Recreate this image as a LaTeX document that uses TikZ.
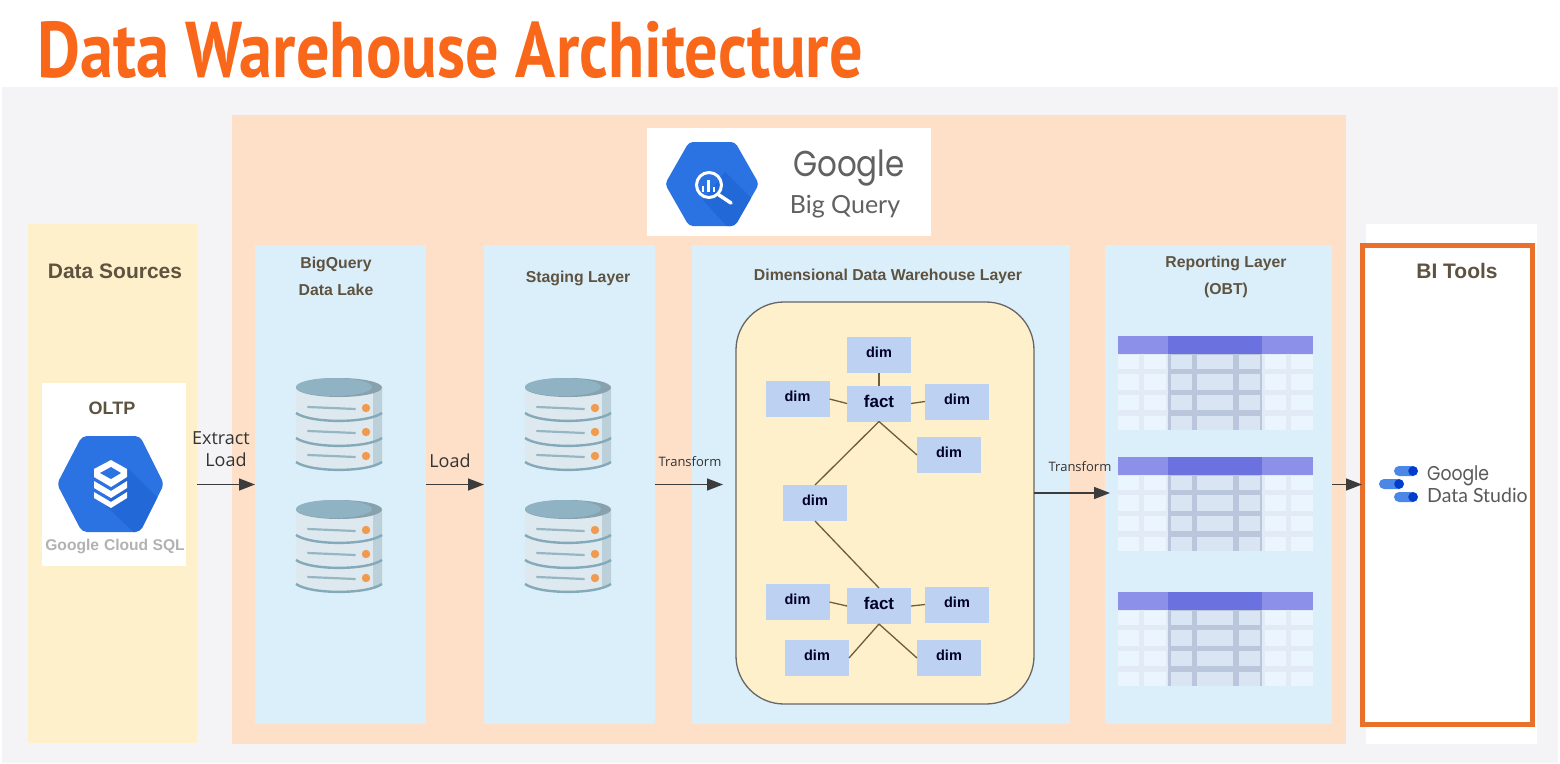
\documentclass[tikz,border=0pt]{standalone}
\usepackage{fontspec}
\usetikzlibrary{arrows.meta}
\setmainfont{Liberation Sans}
\newfontfamily\titlefont[FakeStretch=0.84]{PT Sans}
\newfontfamily\arrowfont{Open Sans}
\newfontfamily\logofont[FakeStretch=0.86]{Poppins}
\newfontfamily\logosub{Lato}
\definecolor{pagegray}{HTML}{F4F4F6}
\definecolor{peach}{HTML}{FEE0C8}
\definecolor{cream}{HTML}{FFF0CC}
\definecolor{skyblue}{HTML}{DBEFFB}
\definecolor{dimblue}{HTML}{BDD2F2}
\definecolor{titleorange}{HTML}{F9671A}
\definecolor{bordorange}{HTML}{E8702A}
\definecolor{headbrown}{HTML}{5E5340}
\definecolor{linkbrown}{HTML}{6F5C3C}
\definecolor{arrowdark}{HTML}{3C3C3C}
\definecolor{gblue}{HTML}{2B72E3}
\definecolor{gbluedark}{HTML}{2268D6}
\definecolor{dbbody}{HTML}{DDE9EE}
\definecolor{dbside}{HTML}{BCD0D9}
\definecolor{dbtop}{HTML}{8FB3C2}
\definecolor{dbband}{HTML}{84A9B9}
\definecolor{dbdot}{HTML}{F09A50}
\definecolor{taba}{HTML}{8C90E8}
\definecolor{tabb}{HTML}{6B72DF}
\definecolor{tabedge}{HTML}{E2EAF5}
\definecolor{tabmid}{HTML}{BAC6DC}
\definecolor{cella}{HTML}{EBF5FE}
\definecolor{cellb}{HTML}{DAE5F3}
\tikzset{
  panel/.style={anchor=north west,inner sep=0pt,outer sep=0pt},
  heading/.style={font=\bfseries\fontsize{15.8}{18}\selectfont,text=headbrown,inner sep=0pt},
  bighead/.style={font=\bfseries\fontsize{21}{25}\selectfont,text=headbrown,inner sep=0pt},
  dimbox/.style={fill=dimblue,minimum width=64pt,minimum height=36pt,inner sep=0pt,outer sep=0pt,
    text depth=5pt,font=\bfseries\fontsize{14.5}{17}\selectfont,text=black!85!blue},
  factbox/.style={dimbox,font=\bfseries\fontsize{17}{20}\selectfont},
  link/.style={draw=linkbrown,line width=1.3pt},
  flow/.style={draw=arrowdark,line width=1.5pt,-{Triangle[length=16pt,width=12pt]}},
  flowtext/.style={font=\arrowfont\fontsize{18}{21}\selectfont,text=black!80,inner sep=0pt},
  smalltext/.style={font=\arrowfont\fontsize{13}{15}\selectfont,text=black!80,inner sep=0pt},
  dbstack/.pic={
    \fill[dbbody] (-43,9.5) -- (-43,84) .. controls (-30,95) and (30,95) .. (43,84) -- (43,9.5) -- cycle;
    \fill[dbside] (34,14) -- (34,89) .. controls (38,88) and (41,86) .. (43,84) -- (43,9.5) -- cycle;
    \foreach \yb in {35,60,84}
      \draw[dbband,line width=2.4pt] (-43,\yb) .. controls (-28,\yb+10.5) and (28,\yb+10.5) .. (43,\yb);
    \foreach \yb in {30,54,78} {
      \draw[dbband!85,line width=2.2pt,line cap=round] (-31,\yb-1) -- (16,\yb+1);
      \fill[dbdot] (27,\yb) circle (4.2);
    }
    \fill[dbtop!85!black!90] (0,9.5) ellipse [x radius=43,y radius=9.5];
    \fill[dbtop] (-5,9) ellipse [x radius=38,y radius=9];
  },
  tableicon/.pic={
    \fill[tabedge] (0,18) rectangle (50,94);
    \fill[tabedge] (144,18) rectangle (195,94);
    \fill[tabmid] (50,18) rectangle (144,94);
    \foreach \xa/\xb/\cellcol in {0/21/cella,26/48/cella,53/74/cellb,79/115/cellb,121/142/cellb,147/168/cella,173/195/cella}
      \foreach \ya/\yb in {19/33,38/54,59/74,80/94}
        \fill[\cellcol] (\xa,\ya) rectangle (\xb,\yb);
    \fill[taba] (0,0) rectangle (195,18);
    \fill[tabb] (50,0) rectangle (144,18);
  }
}
\begin{document}
\begin{tikzpicture}[x=1pt,y=-1pt]
  \useasboundingbox (0,0) rectangle (1560,763);
  \fill[white] (0,0) rectangle (1560,763);
  \fill[pagegray] (2,87) rectangle (1558,763);
  \node[anchor=west,inner sep=0pt,text=titleorange,font=\titlefont\bfseries\fontsize{79}{90}\selectfont] (title) at (37,50) {Data Warehouse Architecture};
  % large areas
  \fill[peach] (232,115) rectangle (1346,744);
  \fill[white] (1366,224) rectangle (1537,744);
  \node[panel,fill=cream,minimum width=169pt,minimum height=519pt] (sources) at (28,224) {};
  \node[panel,fill=skyblue,minimum width=171pt,minimum height=479pt] (lake) at (255,245) {};
  \node[panel,fill=skyblue,minimum width=171pt,minimum height=479pt] (staging) at (484,245) {};
  \node[panel,fill=skyblue,minimum width=378pt,minimum height=479pt] (dwh) at (692,245) {};
  \node[panel,fill=skyblue,minimum width=227pt,minimum height=479pt] (reporting) at (1105,245) {};
  \node[panel,draw=bordorange,line width=5pt,minimum width=170pt,minimum height=479pt] (bitools) at (1362,245) {};
  % headings
  \node[bighead] (srchead) at (115,271) {Data Sources};
  \node[heading] (lakehead) at (336,264.5) {BigQuery};
  \node[heading] (lakehead2) at (336,290) {Data Lake};
  \node[heading] (staginghead) at (578,278.5) {Staging Layer};
  \node[heading] (dwhhead) at (888,276.5) {Dimensional Data Warehouse Layer};
  \node[heading] (rephead) at (1226,263.5) {Reporting Layer};
  \node[heading] (rephead2) at (1226,290) {(OBT)};
  \node[bighead] (bihead) at (1457,271) {BI Tools};
  % big query logo
  \node[panel,fill=white,minimum width=284pt,minimum height=108pt] (bqbox) at (647,128) {};
  \begin{scope}
    \clip[rounded corners=4pt] (665,184) -- (689,142) -- (735,142) -- (759,184) -- (735,226) -- (689,226) -- cycle;
    \fill[gblue] (660,138) rectangle (765,230);
    \fill[gbluedark] (725,172) -- (765,212) -- (765,232) -- (732,232) -- (703,200) -- cycle;
  \end{scope}
  \draw[white,line width=3pt] (709,185) circle (12.5);
  \draw[white,line width=3.6pt,line cap=round] (719,195) -- (731,203);
  \foreach \xb/\yb in {703/186,708.5/180,714/187}
    \draw[white,line width=2.6pt] (\xb,\yb) -- (\xb,192);
  \node[inner sep=0pt,text=black!62,font=\logofont\fontsize{36}{42}\selectfont] (bqname) at (849,168) {Google};
  \node[inner sep=0pt,text=black!62,font=\logosub\fontsize{25}{30}\selectfont] (bqsub) at (845,207) {Big Query};
  % oltp card
  \node[panel,fill=white,minimum width=144pt,minimum height=183pt] (oltp) at (42,383) {};
  \node[inner sep=0pt,text=headbrown,font=\bfseries\fontsize{18}{21}\selectfont] (oltphead) at (112,408) {OLTP};
  \begin{scope}
    \clip[rounded corners=5pt] (57,484) -- (82,436) -- (140,436) -- (164,484) -- (140,532) -- (82,532) -- cycle;
    \fill[gblue] (50,430) rectangle (170,540);
    \fill[gbluedark] (128,468) -- (170,510) -- (170,540) -- (142,540) -- (106,506) -- cycle;
  \end{scope}
  \fill[white] (111,460) -- (127,469) -- (127,477) -- (111,487) -- (94,477) -- (94,469) -- cycle;
  \fill[gblue] (111,467) -- (121,473) -- (111,479) -- (100,473) -- cycle;
  \fill[white] (94,481) -- (111,491) -- (127,481) -- (127,488) -- (111,498) -- (94,488) -- cycle;
  \fill[white] (94,492) -- (111,502) -- (127,492) -- (127,498) -- (111,508) -- (94,498) -- cycle;
  \node[inner sep=0pt,text=black!30,font=\bfseries\fontsize{15.6}{18}\selectfont] (sqlname) at (115,546) {Google\hspace{5pt}Cloud SQL};
  % databases
  \pic at (339,378) {dbstack};
  \pic at (339,500) {dbstack};
  \pic at (568,378) {dbstack};
  \pic at (568,500) {dbstack};
  % star schema
  \node[panel,draw=black!60,fill=cream,line width=1.3pt,rounded corners=48pt,minimum width=298pt,minimum height=402pt] (yellow) at (736,302) {};
  \node[dimbox] (dimtop) at (879,355) {dim};
  \node[factbox] (facta) at (879,403.5) {fact};
  \node[dimbox] (dimleft) at (797.5,399) {dim};
  \node[dimbox] (dimright) at (957,401.5) {dim};
  \node[dimbox] (dimlow) at (949,455) {dim};
  \node[dimbox] (dimmid) at (815,503) {dim};
  \node[factbox] (factb) at (879,606) {fact};
  \node[dimbox] (dimleftb) at (797.5,602) {dim};
  \node[dimbox] (dimrightb) at (957,604.5) {dim};
  \node[dimbox] (dimlowa) at (817,658) {dim};
  \node[dimbox] (dimlowb) at (949,658) {dim};
  \draw[link] (dimtop) -- (facta);
  \draw[link] (dimleft.east) -- (facta.west);
  \draw[link] (dimright.west) -- (facta.east);
  \draw[link] (facta.south) -- (dimlow.west);
  \draw[link] (facta.south) -- (dimmid.north);
  \draw[link] (dimmid.south) -- (factb.north);
  \draw[link] (dimleftb.east) -- (factb.west);
  \draw[link] (dimrightb.west) -- (factb.east);
  \draw[link] (factb.south) -- (dimlowa.east);
  \draw[link] (factb.south) -- (dimlowb.west);
  % tables
  \pic at (1118,336) {tableicon};
  \pic at (1118,457) {tableicon};
  \pic at (1118,592) {tableicon};
  % data studio logo
  \foreach \xa/\xb/\yc in {1394/1418/471,1379/1404/484,1394/1418/497} {
    \fill[gblue!85!white,rounded corners=5pt] (\xa,\yc-5) rectangle (\xb,\yc+5);
    \fill[blue!70!cyan!80!black] (\xb-5,\yc) circle (4.8);
  }
  \node[anchor=west,inner sep=0pt,text=black!65,font=\logofont\fontsize{20}{22}\selectfont] (dsname) at (1427,476) {Google};
  \node[anchor=west,inner sep=0pt,text=black!65,font=\logosub\fontsize{19.5}{22}\selectfont] (dssub) at (1427,495) {Data Studio};
  % flows
  \coordinate (stagingout) at (723,484.5);
  \coordinate (yellowout) at (1034,493);
  \coordinate (reportin) at (1110,493);
  \draw[flow] (sources.east |- lake.west) -- (lake.west);
  \draw[flow] (lake.east) -- (staging.west);
  \draw[flow] (staging.east) -- (stagingout);
  \draw[flow] (yellowout) -- (reportin);
  \draw[flow] (reporting.east) -- (bitools.west);
  \node[flowtext] (extract) at (221,438) {Extract};
  \node[flowtext] (extractb) at (226,460) {Load};
  \node[flowtext] (load) at (450,461) {Load};
  \node[smalltext] (transa) at (690,462) {Transform};
  \node[smalltext] (transb) at (1080,467) {Transform};
\end{tikzpicture}
\end{document}
